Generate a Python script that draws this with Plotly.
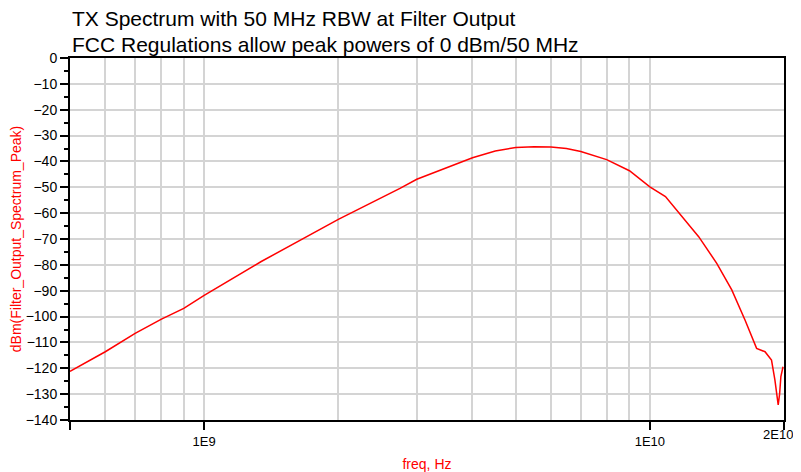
import plotly.graph_objects as go
import math

# Data
freq_hz = [5.0e8, 6e8, 7e8, 8e8, 9e8, 1e9, 1.34e9, 2e9, 2.75e9, 3e9, 4e9, 4.5e9,
           5e9, 5.5e9, 6e9, 6.5e9, 7e9, 7.7e9, 8e9, 9e9, 1e10, 1.084e10, 1.161e10,
           1.287e10, 1.413e10, 1.527e10, 1.635e10, 1.736e10, 1.813e10, 1.875e10,
           1.908e10, 1.941e10, 1.955e10, 1.968e10, 1.99e10]
dbm = [-121.2, -113.6, -106.5, -101.1, -96.8, -91.8, -78.8, -62.4, -50.4, -46.9,
       -38.6, -36.0, -34.6, -34.3, -34.4, -35.0, -36.2, -38.2, -39.3, -43.6,
       -49.8, -53.6, -59.8, -69.1, -79.4, -89.7, -101.3, -112.3, -113.6, -116.8,
       -124.5, -134.2, -130.0, -123.2, -119.4]

x_tick_vals = [5e8, 1e9, 1e10, 2e10]
x_tick_text = ["", "1E9", "1E10", ""]
x_last_label = "2E10"
x_grid_vals = [6e8, 7e8, 8e8, 9e8, 2e9, 3e9, 4e9, 5e9, 6e9, 7e9, 8e9, 9e9]

title_lines = ["TX Spectrum with 50 MHz RBW at Filter Output",
               "FCC Regulations allow peak powers of 0 dBm/50 MHz"]

FONT = "Liberation Sans, Arial, sans-serif"

fig = go.Figure()
fig.add_trace(go.Scatter(x=freq_hz, y=dbm, mode="lines",
                         line=dict(color="#ff0000", width=1.5),
                         showlegend=False, hoverinfo="skip"))

for i, line in enumerate(title_lines):
    fig.add_annotation(text=line, xref="paper", yref="paper", x=0, y=1,
                       xanchor="left", yanchor="bottom", xshift=1,
                       yshift=1 + 26 * (len(title_lines) - 1 - i),
                       showarrow=False, align="left", borderpad=0,
                       font=dict(family=FONT, size=21, color="black"))

# last x tick label kept inside the page edge
fig.add_annotation(text=x_last_label, xref="paper", yref="paper", x=1, y=0,
                   xanchor="right", yanchor="top", xshift=10, yshift=-6,
                   showarrow=False, borderpad=0,
                   font=dict(family=FONT, size=13, color="black"))

# The page body adds an 8 px offset, so the figure is 8 px smaller each way.
fig.update_layout(
    width=793, height=464,
    margin=dict(l=62, r=17, t=50, b=52),
    paper_bgcolor="white", plot_bgcolor="white",
    font=dict(family=FONT, color="black", size=14),
    xaxis=dict(type="log", range=[math.log10(5e8), math.log10(2e10)],
               automargin=False,
               tickmode="array", tickvals=x_tick_vals, ticktext=x_tick_text,
               ticks="outside", ticklen=8, tickwidth=2, tickcolor="black",
               showline=True, linecolor="black", linewidth=2, mirror=True,
               showgrid=True, gridcolor="#d4d4d4", gridwidth=2,
               minor=dict(tickmode="array", tickvals=x_grid_vals, showgrid=True,
                          gridcolor="#d4d4d4", gridwidth=2, ticks=""),
               tickfont=dict(size=13, color="black"),
               title=dict(text="freq, Hz", font=dict(size=14, color="#ff0000"), standoff=14),
               zeroline=False),
    yaxis=dict(range=[-140, 0], tickmode="linear", tick0=0, dtick=10,
               automargin=False,
               ticks="outside", ticklen=8, tickwidth=2, tickcolor="black",
               showline=True, linecolor="black", linewidth=2, mirror=True,
               showgrid=True, gridcolor="#d4d4d4", gridwidth=2,
               minor=dict(dtick=5, ticks="outside", ticklen=4, tickwidth=2,
                          tickcolor="black", showgrid=False),
               tickfont=dict(size=14, color="black"),
               title=dict(text="dBm(Filter_Output_Spectrum_Peak)",
                          font=dict(size=14, color="#ff0000"), standoff=6),
               zeroline=False),
)

fig.write_html("out.html")
